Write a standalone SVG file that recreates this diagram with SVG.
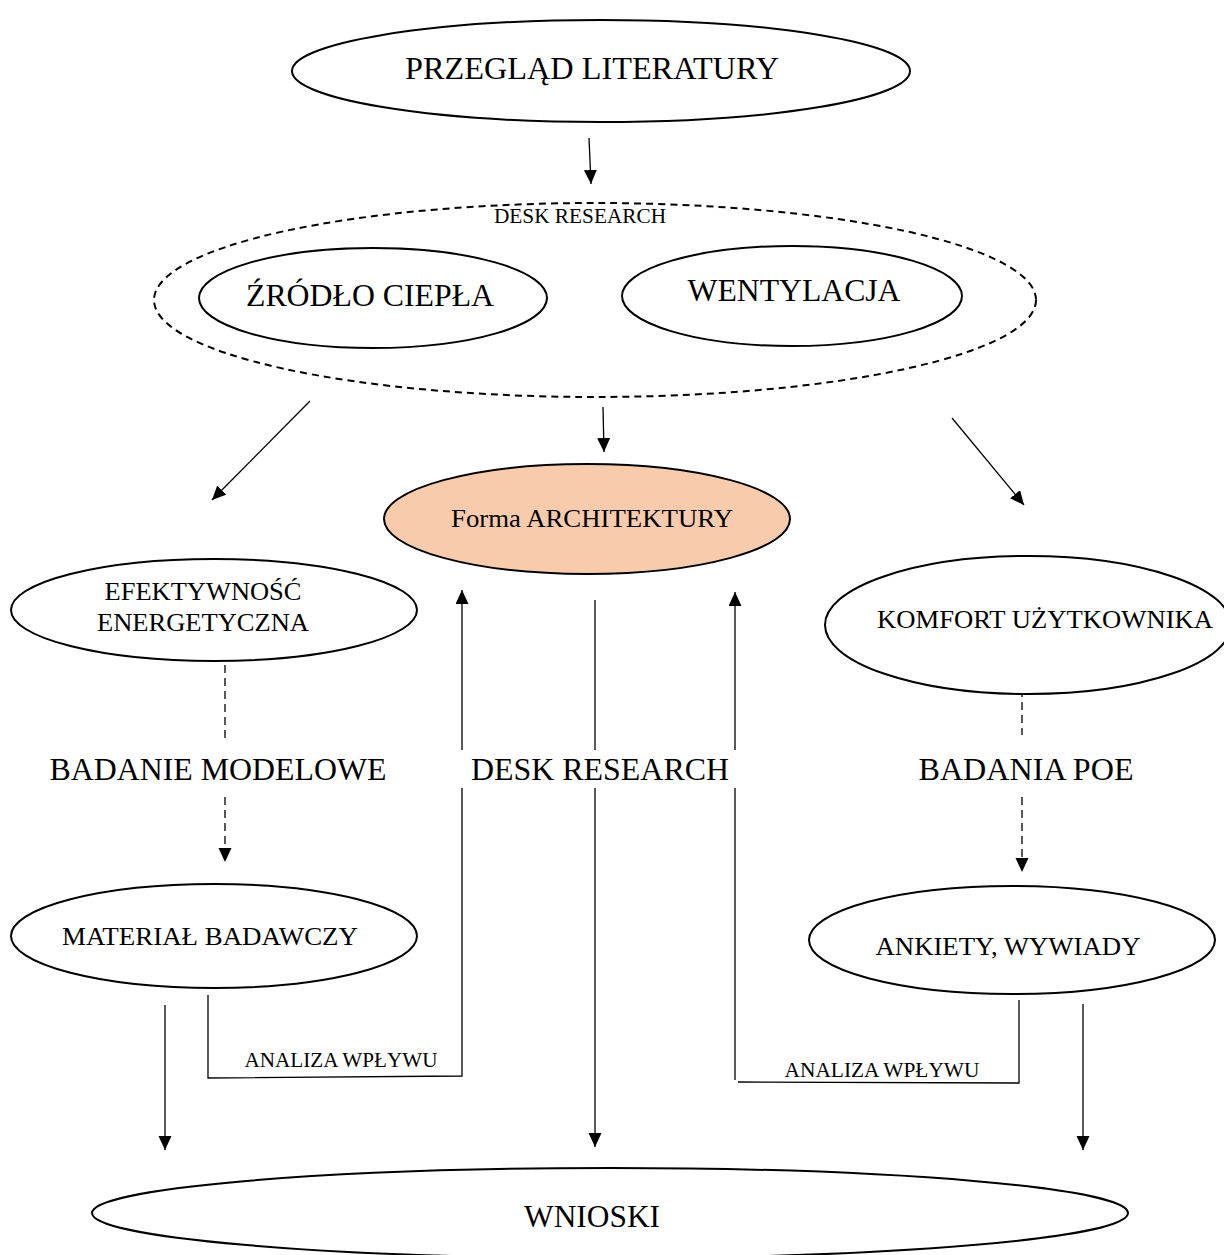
<svg xmlns="http://www.w3.org/2000/svg" width="1224" height="1255" viewBox="0 0 1224 1255">
  <defs>
    <marker id="arrow" markerUnits="userSpaceOnUse" markerWidth="14" markerHeight="16" refX="14" refY="6.5" orient="auto">
      <path d="M0,0 L14,6.5 L0,13 Z" fill="#000"/>
    </marker>
    <style>
      text { font-family: "Liberation Serif", "Times New Roman", serif; fill: #000; text-anchor: middle; }
      .node { fill: #fff; stroke: #000; stroke-width: 2; }
      .dash-node { fill: none; stroke: #000; stroke-width: 2; stroke-dasharray: 7 5; }
      .line { fill: none; stroke: #000; stroke-width: 1.3; }
      .dline { fill: none; stroke: #000; stroke-width: 1.3; stroke-dasharray: 8 5; }
      .big { font-size: 32px; }
      .mid { font-size: 26px; }
      .small { font-size: 21px; }
    </style>
  </defs>
  <rect width="1224" height="1255" fill="#fff"/>

  <!-- connectors -->
  <g id="connectors">
    <line class="line" x1="589" y1="138" x2="591" y2="184" marker-end="url(#arrow)"/>
    <line class="line" x1="310" y1="401" x2="212" y2="500" marker-end="url(#arrow)"/>
    <line class="line" x1="603" y1="407" x2="604" y2="452" marker-end="url(#arrow)"/>
    <line class="line" x1="952" y1="418" x2="1024" y2="505" marker-end="url(#arrow)"/>
    <line class="dline" x1="225" y1="665" x2="225" y2="740"/>
    <line class="dline" x1="225" y1="797" x2="225" y2="862" marker-end="url(#arrow)"/>
    <line class="dline" x1="1022" y1="676" x2="1022" y2="735"/>
    <line class="dline" x1="1022" y1="797" x2="1022" y2="872" marker-end="url(#arrow)"/>
    <line class="line" x1="595" y1="600" x2="595" y2="1147" marker-end="url(#arrow)"/>
    <polyline class="line" points="208,995 208,1078 462,1076 462,590" marker-end="url(#arrow)"/>
    <polyline class="line" points="1019,1000 1019,1083 738,1082"/>
    <line class="line" x1="735" y1="1080" x2="735" y2="592" marker-end="url(#arrow)"/>
    <line class="line" x1="165" y1="1005" x2="165" y2="1150" marker-end="url(#arrow)"/>
    <line class="line" x1="1083" y1="1004" x2="1083" y2="1150" marker-end="url(#arrow)"/>
    <rect x="454" y="750" width="290" height="38" fill="#fff"/>
    <text class="big" x="218" y="780" textLength="337" lengthAdjust="spacingAndGlyphs">BADANIE MODELOWE</text>
    <text class="big" x="600" y="780" textLength="258" lengthAdjust="spacingAndGlyphs">DESK RESEARCH</text>
    <text class="big" x="1026" y="780" textLength="215" lengthAdjust="spacingAndGlyphs">BADANIA POE</text>
    <text class="small" x="341" y="1067" textLength="193" lengthAdjust="spacingAndGlyphs">ANALIZA WPŁYWU</text>
    <text class="small" x="882" y="1077" textLength="195" lengthAdjust="spacingAndGlyphs">ANALIZA WPŁYWU</text>
  </g>

  <g id="przeglad">
    <ellipse class="node" cx="601" cy="71" rx="309" ry="51"/>
    <text class="big" x="592" y="79" textLength="374" lengthAdjust="spacingAndGlyphs">PRZEGLĄD LITERATURY</text>
  </g>

  <g id="desk-research-group">
    <ellipse class="dash-node" cx="595" cy="300" rx="441" ry="97"/>
    <text class="small" x="580" y="223" textLength="172" lengthAdjust="spacingAndGlyphs">DESK RESEARCH</text>
  </g>

  <g id="zrodlo">
    <ellipse class="node" cx="373" cy="298" rx="174" ry="50"/>
    <text class="big" x="370" y="306" textLength="248" lengthAdjust="spacingAndGlyphs">ŹRÓDŁO CIEPŁA</text>
  </g>

  <g id="wentylacja">
    <ellipse class="node" cx="792" cy="296" rx="170" ry="50"/>
    <text class="big" x="794" y="301" textLength="213" lengthAdjust="spacingAndGlyphs">WENTYLACJA</text>
  </g>

  <g id="forma">
    <ellipse cx="587" cy="519" rx="203" ry="55" fill="#f8cbad" stroke="#000" stroke-width="2"/>
    <text class="mid" x="592" y="527" textLength="282" lengthAdjust="spacingAndGlyphs">Forma ARCHITEKTURY</text>
  </g>

  <g id="efektywnosc">
    <ellipse class="node" cx="214" cy="610" rx="203" ry="51"/>
    <text class="mid" x="203" y="600" textLength="197" lengthAdjust="spacingAndGlyphs">EFEKTYWNOŚĆ</text>
    <text class="mid" x="203" y="631" textLength="212" lengthAdjust="spacingAndGlyphs">ENERGETYCZNA</text>
  </g>

  <g id="komfort">
    <ellipse class="node" cx="1028" cy="625" rx="203" ry="69"/>
    <text class="mid" x="1045" y="628" textLength="336" lengthAdjust="spacingAndGlyphs">KOMFORT UŻYTKOWNIKA</text>
  </g>

  <g id="material">
    <ellipse class="node" cx="214" cy="936" rx="203" ry="52"/>
    <text class="mid" x="210" y="945" textLength="296" lengthAdjust="spacingAndGlyphs">MATERIAŁ BADAWCZY</text>
  </g>

  <g id="ankiety">
    <ellipse class="node" cx="1012" cy="940" rx="203" ry="54"/>
    <text class="mid" x="1008" y="955" textLength="265" lengthAdjust="spacingAndGlyphs">ANKIETY, WYWIADY</text>
  </g>

  <g id="wnioski">
    <ellipse class="node" cx="610" cy="1213" rx="518" ry="45"/>
    <text class="big" x="592" y="1227" textLength="136" lengthAdjust="spacingAndGlyphs">WNIOSKI</text>
  </g>
</svg>
